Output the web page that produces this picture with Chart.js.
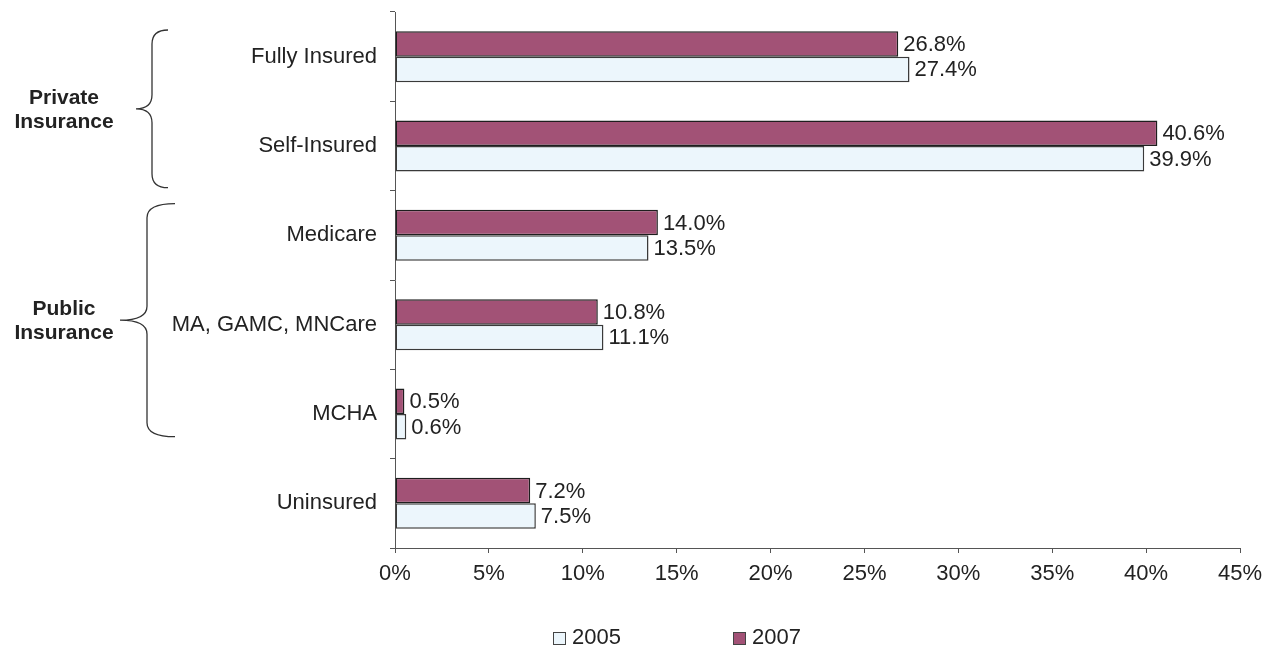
<!DOCTYPE html>
<html>
<head>
<meta charset="utf-8">
<script src="https://cdn.jsdelivr.net/npm/chart.js@4/dist/chart.umd.min.js"></script>
<style>
  html, body { margin:0; padding:0; background:#fff; }
  #wrap { width:1271px; height:647px; }
</style>
</head>
<body>
<div id="wrap"><canvas id="c" width="1271" height="647"></canvas></div>
<script>
// ==== DATA ====
const categories = ["Fully Insured", "Self-Insured", "Medicare", "MA, GAMC, MNCare", "MCHA", "Uninsured"];
const values2005 = [27.4, 39.9, 13.5, 11.1, 0.6, 7.5];
const values2007 = [26.8, 40.6, 14.0, 10.8, 0.5, 7.2];
const xTicks = [0, 5, 10, 15, 20, 25, 30, 35, 40, 45];
const groups = [
  { lines: ["Private", "Insurance"], first: 0, last: 1 },
  { lines: ["Public", "Insurance"], first: 2, last: 4 }
];

const FONT = "'Liberation Sans', Arial, sans-serif";
const INK = "#222";

// value labels right of each bar
const valueLabels = {
  id: "valueLabels",
  afterDatasetsDraw(chart){
    const ctx = chart.ctx;
    ctx.save();
    ctx.font = `22px ${FONT}`;
    ctx.fillStyle = INK;
    ctx.textAlign = "left";
    ctx.textBaseline = "middle";
    chart.data.datasets.forEach((ds, i) => {
      chart.getDatasetMeta(i).data.forEach((bar, j) => {
        ctx.fillText(ds.data[j].toFixed(1) + "%", bar.x + 5, bar.y + 1);
      });
    });
    ctx.restore();
  }
};

// curly braces + group names on the left
const braces = {
  id: "braces",
  afterDraw(chart, args, opts){
    const ctx = chart.ctx, y = chart.scales.y;
    const half = (y.getPixelForValue(1) - y.getPixelForValue(0)) / 2;
    groups.forEach((g, k) => {
      const st = opts.styles[k];
      const top = y.getPixelForValue(g.first) - half + st.topPad;
      const bot = y.getPixelForValue(g.last) + half - st.botPad;
      const mid = (top + bot) / 2;
      const r = 14;
      ctx.save();
      ctx.strokeStyle = "#333";
      ctx.lineWidth = 1.3;
      ctx.beginPath();
      ctx.moveTo(st.xEnd, top);
      ctx.quadraticCurveTo(st.xV, top, st.xV, top + r);
      ctx.lineTo(st.xV, mid - r);
      ctx.quadraticCurveTo(st.xV, mid, st.xTip, mid);
      ctx.quadraticCurveTo(st.xV, mid, st.xV, mid + r);
      ctx.lineTo(st.xV, bot - r);
      ctx.quadraticCurveTo(st.xV, bot, st.xEnd, bot);
      ctx.stroke();
      ctx.font = `bold 21px ${FONT}`;
      ctx.fillStyle = INK;
      ctx.textAlign = "center";
      ctx.textBaseline = "middle";
      ctx.fillText(g.lines[0], 64, mid - 11);
      ctx.fillText(g.lines[1], 64, mid + 13);
      ctx.restore();
    });
  }
};

// legend drawn at the bottom
const bottomLegend = {
  id: "bottomLegend",
  afterDraw(chart, args, opts){
    const ctx = chart.ctx;
    const order = [1, 0]; // 2005 first, then 2007
    ctx.save();
    ctx.font = `22px ${FONT}`;
    ctx.textAlign = "left";
    ctx.textBaseline = "middle";
    order.forEach((di, k) => {
      const ds = chart.data.datasets[di];
      const x = opts.x + k * opts.step;
      ctx.fillStyle = ds.backgroundColor;
      ctx.fillRect(x, opts.y - 6, 12, 12);
      ctx.strokeStyle = "#444";
      ctx.lineWidth = 1;
      ctx.strokeRect(x + 0.5, opts.y - 5.5, 12, 12);
      ctx.fillStyle = INK;
      ctx.fillText(ds.label, x + 19, opts.y);
    });
    ctx.restore();
  }
};

new Chart(document.getElementById("c"), {
  type: "bar",
  data: {
    labels: categories,
    datasets: [
      { label: "2007", data: values2007, backgroundColor: "#A25276", borderColor: "#1e1e1e", borderWidth: 1.5, borderSkipped: false },
      { label: "2005", data: values2005, backgroundColor: "#ECF6FC", borderColor: "#3a3a3a", borderWidth: 1.5, borderSkipped: false }
    ]
  },
  options: {
    indexAxis: "y",
    responsive: false,
    devicePixelRatio: 1,
    animation: false,
    layout: { padding: { top: 12, right: 31, left: 0, bottom: 0 } },
    datasets: { bar: { barPercentage: 1, categoryPercentage: 0.57 } },
    scales: {
      x: {
        min: 0, max: 45,
        afterBuildTicks: s => { s.ticks = xTicks.map(v => ({ value: v })); },
        afterFit: s => { s.height = 99; s.paddingLeft = 0; s.paddingRight = 0; },
        ticks: { callback: v => v + "%", color: INK, font: { family: FONT, size: 22 }, padding: 8, maxRotation: 0 },
        grid: { drawOnChartArea: false, tickLength: 5, color: "#555" },
        border: { color: "#555", width: 1 }
      },
      y: {
        afterFit: s => { s.width = 395; s.paddingTop = 0; s.paddingBottom = 0; },
        ticks: { color: INK, font: { family: FONT, size: 22 }, padding: 13 },
        grid: { drawOnChartArea: false, offset: true, tickLength: 5, color: "#555" },
        border: { color: "#555", width: 1 }
      }
    },
    plugins: {
      legend: { display: false },
      tooltip: { enabled: false },
      braces: { styles: [
        { topPad: 18, botPad: 3, xEnd: 168, xV: 152, xTip: 136 },
        { topPad: 13, botPad: 22, xEnd: 175, xV: 147, xTip: 120 }
      ] },
      bottomLegend: { x: 553, step: 180, y: 638 }
    }
  },
  plugins: [valueLabels, braces, bottomLegend]
});
</script>
</body>
</html>
